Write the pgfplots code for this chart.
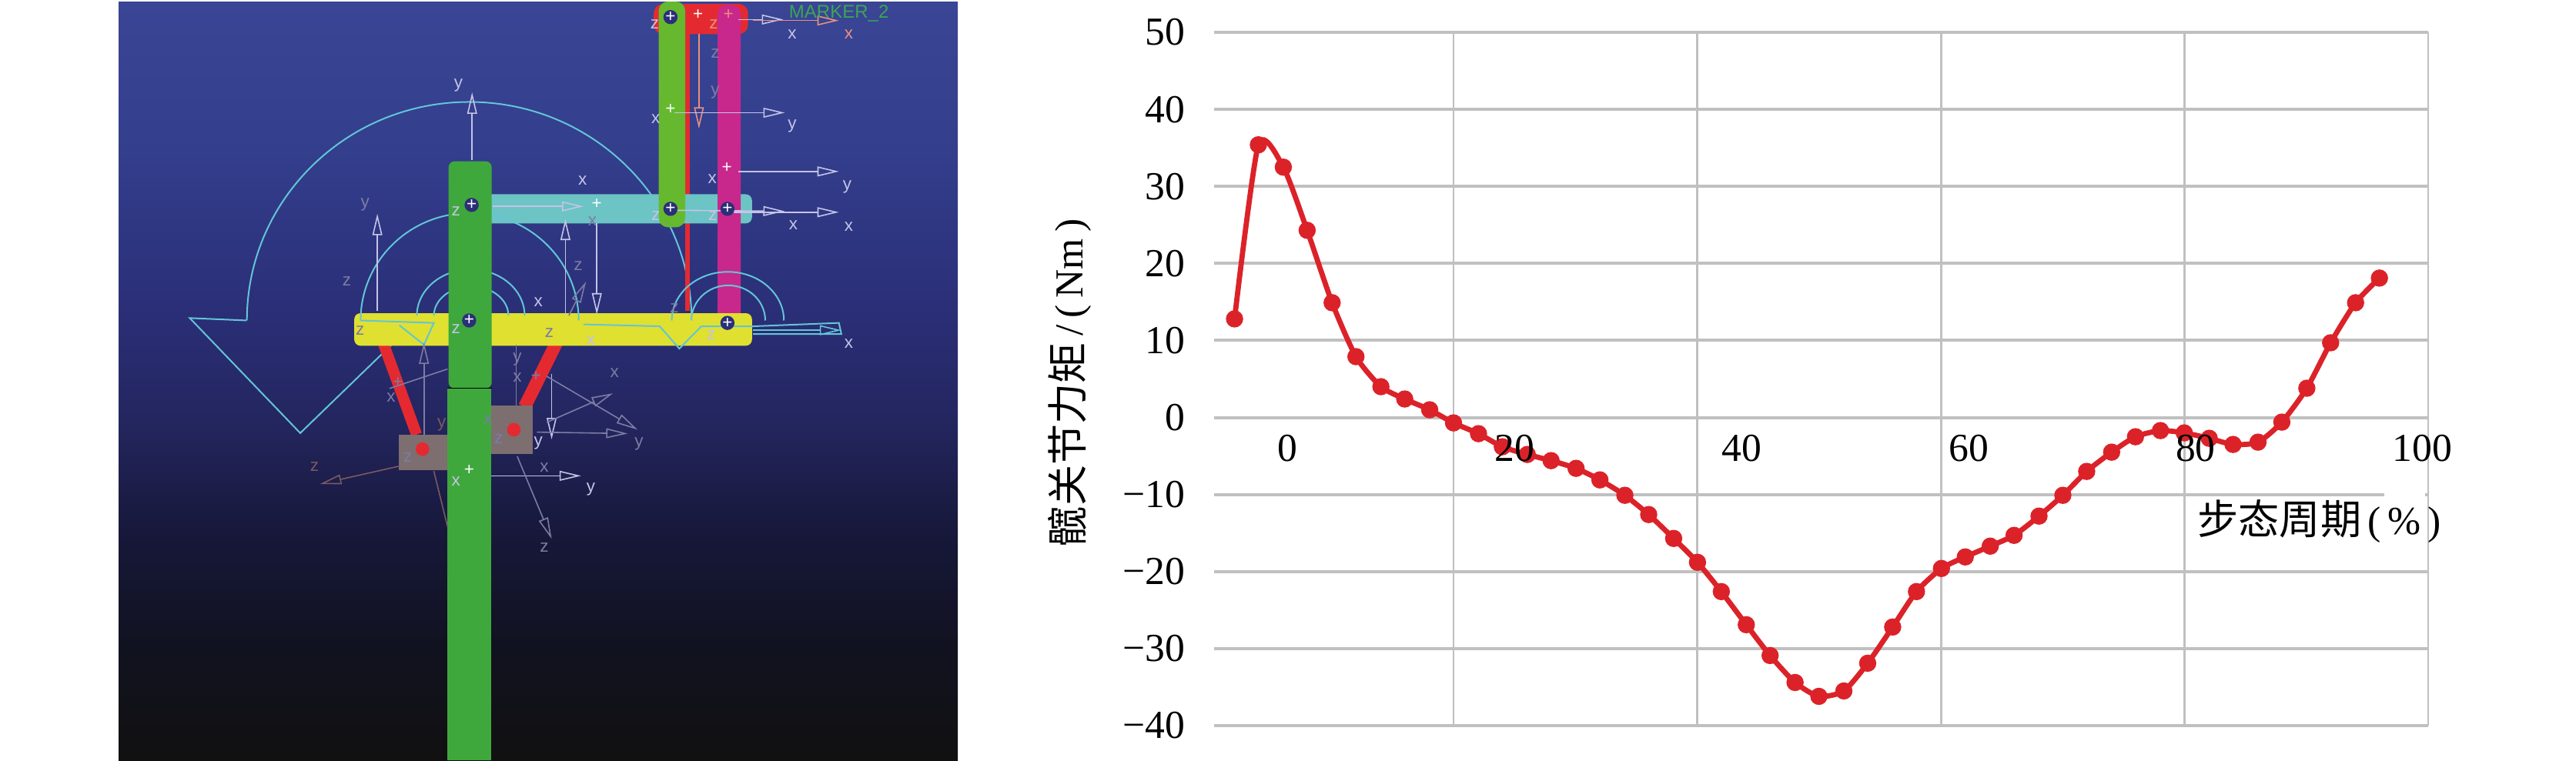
\documentclass[border=0pt]{standalone}
\usepackage{fontspec}
\usepackage{pgfplots}
\pgfplotsset{compat=1.18}
\usetikzlibrary{arrows.meta}
\setmainfont{Liberation Serif}
\newfontfamily\cjk{Noto Sans CJK SC}
\newfontfamily\lab{Liberation Sans}

\definecolor{gridc}{HTML}{C0C0C0}
\definecolor{curve}{HTML}{DC2229}
\definecolor{kA}{HTML}{111111}
\definecolor{kB}{HTML}{111220}
\definecolor{kC}{HTML}{17183A}
\definecolor{kD}{HTML}{242660}
\definecolor{kE}{HTML}{2B2F78}
\definecolor{kF}{HTML}{333E8C}
\definecolor{kG}{HTML}{3A4595}
\definecolor{bigg}{HTML}{3FA83C}
\definecolor{lightg}{HTML}{66B92E}
\definecolor{magen}{HTML}{C8288C}
\definecolor{teal1}{HTML}{6CC4C4}
\definecolor{yell}{HTML}{DFE030}
\definecolor{redb}{HTML}{E42A30}
\definecolor{block}{HTML}{7D6E70}
\definecolor{cyl}{HTML}{63C5D6}
\definecolor{wire}{HTML}{C4C4E8}
\definecolor{dim}{HTML}{7C7CA4}
\definecolor{orng}{HTML}{E89080}
\definecolor{brwn}{HTML}{7A5A60}
\definecolor{mkr}{HTML}{3AA655}

\pgfdeclareverticalshading{panelgrad}{100bp}{color(0bp)=(kA); color(25bp)=(kA); color(32.5bp)=(kB); color(40bp)=(kC); color(47.5bp)=(kD); color(55bp)=(kE); color(65bp)=(kF); color(75bp)=(kG); color(100bp)=(kG)}

% small helpers for the model screenshot, coordinates are the panel's own
\newcommand\lb[4]{\node[text=#4,font=\lab\fontsize{5.6}{6}\selectfont,inner sep=0pt] at (axis cs:#1,#2) {#3};}
\newcommand\rbar[6][2pt]{\addplot[fill=#2,draw=none,rounded corners=#1] coordinates {(#3,#4)(#5,#4)(#5,#6)(#3,#6)} -- cycle;}
\newcommand\jt[2]{\fill[kE] (axis cs:#1,#2) circle[radius=2.3pt]; \lb{#1}{#2}{+}{white}}

\pgfplotstableread{
x y
-4.7 12.8
-2.6 35.4
-0.4 32.5
1.7 24.3
3.9 14.9
6.0 7.9
8.2 4.0
10.3 2.4
12.5 1.0
14.6 -0.7
16.8 -2.1
18.9 -3.8
21.1 -4.8
23.2 -5.6
25.4 -6.6
27.5 -8.1
29.7 -10.1
31.8 -12.6
34.0 -15.7
36.1 -18.8
38.2 -22.6
40.4 -26.9
42.5 -30.9
44.7 -34.4
46.8 -36.2
49.0 -35.5
51.1 -31.9
53.3 -27.2
55.4 -22.6
57.6 -19.6
59.7 -18.1
61.9 -16.7
64.0 -15.3
66.2 -12.8
68.3 -10.1
70.4 -7.0
72.6 -4.5
74.7 -2.5
76.9 -1.7
79.0 -2.0
81.2 -2.7
83.3 -3.5
85.5 -3.2
87.6 -0.6
89.8 3.8
91.9 9.7
94.1 14.9
96.2 18.1
}\torque

\begin{document}
\begin{tikzpicture}
\path[use as bounding box] (0,0) rectangle (836.5pt,-247pt);

% left panel: screenshot of the model
\begin{axis}[
    at={(38.5pt,-247pt)}, anchor=south west,
    scale only axis, width=272.5pt, height=246.5pt,
    xmin=38, xmax=1747, ymin=3, ymax=1566, y dir=reverse,
    hide axis
  ]
\shade[shading=panelgrad] (rel axis cs:0,0) rectangle (rel axis cs:1,1);

% big cyan rotation arrow and joint arcs
\draw[cyl,line width=.5pt] (axis cs:1205,660) arc[start angle=0,end angle=180,x radius=72.2pt,y radius=71pt];
\addplot[cyl,line width=.5pt] coordinates {(299,660)(183,655)(408,892)(650,655)};
\addplot[redb,line width=1.5pt] coordinates {(1196,60)(1196,640)};

% bars, back to front
\rbar{teal1}{755}{400}{1328}{460}
\rbar[3pt]{redb}{1128}{8}{1320}{70}
\rbar[3pt]{lightg}{1138}{3}{1192}{468}
\rbar[3pt]{magen}{1258}{10}{1305}{695}
\addplot[redb,line width=3.6pt] coordinates {(562,665)(645,895)};
\addplot[redb,line width=4.2pt] coordinates {(945,675)(865,838)};
\rbar[0pt]{block}{608}{895}{712}{968}
\rbar[0pt]{block}{796}{835}{882}{935}
\rbar{yell}{518}{645}{1328}{712}
\draw[cyl,line width=.5pt] (axis cs:975,660) arc[start angle=0,end angle=180,x radius=35.4pt,y radius=34.9pt];
\draw[cyl,line width=.5pt] (axis cs:865,650) arc[start angle=0,end angle=180,x radius=17.5pt,y radius=15pt];
\draw[cyl,line width=.5pt] (axis cs:832,650) arc[start angle=0,end angle=180,x radius=12.1pt,y radius=9.5pt];
\draw[cyl,line width=.5pt] (axis cs:1393,660) arc[start angle=0,end angle=180,x radius=18.2pt,y radius=15.8pt];
\draw[cyl,line width=.5pt] (axis cs:1355,660) arc[start angle=0,end angle=180,x radius=12pt,y radius=11.4pt];
\addplot[cyl,line width=.5pt] coordinates {(530,660)(680,665)(660,710)(610,670)};
\addplot[cyl,line width=.5pt] coordinates {(985,668)(1140,672)(1180,718)(1225,672)(1330,672)(1505,665)(1510,688)(1330,688)};
\rbar[2pt]{bigg}{710}{332}{798}{800}
\rbar[0pt]{bigg}{708}{800}{797}{1566}
\addplot[black,line width=.3pt] coordinates {(708,799)(798,799)};
\fill[redb] (axis cs:657,925) circle[radius=2.2pt];
\fill[redb] (axis cs:843,885) circle[radius=2.2pt];

% marker triads
\tikzset{arr/.style={line width=.4pt,-{Triangle[open,length=7pt,width=3.2pt]}}}
\addplot[arr,wire] coordinates {(758,330)(758,190)};
\addplot[arr,wire] coordinates {(565,640)(565,440)};
\addplot[arr,wire] coordinates {(948,650)(948,450)};
\addplot[arr,wire] coordinates {(1012,460)(1012,648)};
\addplot[arr,dim] coordinates {(660,895)(660,705)};
\addplot[dim,line width=.4pt] coordinates {(848,835)(848,710)};
\addplot[arr,wire] coordinates {(920,770)(920,905)};
\addplot[arr,orng] coordinates {(1220,70)(1220,265)};
\addplot[arr,wire] coordinates {(1170,232)(1395,232)};
\addplot[arr,wire] coordinates {(1300,353)(1505,353)};
\addplot[arr,wire] coordinates {(1175,433)(1395,435)};
\addplot[arr,wire] coordinates {(1290,437)(1505,437)};
\addplot[arr,wire] coordinates {(800,425)(985,425)};
\addplot[arr,wire] coordinates {(797,980)(980,980)};
\addplot[arr,dim] coordinates {(890,890)(1075,893)};
\addplot[arr,wire] coordinates {(1300,40)(1392,40)};
\addplot[arr,orng] coordinates {(1330,42)(1505,42)};
\addplot[arr,cyl] coordinates {(1330,680)(1510,680)};
\addplot[arr,dim] coordinates {(850,940)(920,1110)};
\addplot[arr,dim] coordinates {(910,870)(1045,810)};
\addplot[arr,dim] coordinates {(910,775)(1095,885)};
\addplot[arr,brwn] coordinates {(610,960)(448,997)};
\addplot[brwn,line width=.4pt] coordinates {(680,970)(708,1085)};
\addplot[dim,line width=.4pt] coordinates {(708,760)(590,800)};
\addplot[arr,dim] coordinates {(955,650)(990,580)};

\jt{757}{422}
\jt{1162}{430}
\jt{1162}{35}
\jt{1278}{430}
\jt{1278}{665}
\jt{752}{660}
\lb{1162}{225}{+}{white}
\lb{1218}{30}{+}{white}
\lb{1280}{30}{+}{orng}
\lb{1277}{345}{+}{white}
\lb{1012}{420}{+}{white}
\lb{752}{968}{+}{white}
\lb{607}{787}{+}{dim}
\lb{888}{775}{+}{dim}

\lb{730}{175}{y}{wire} \lb{540}{422}{y}{dim} \lb{503}{580}{z}{dim} \lb{974}{548}{z}{dim}
\lb{983}{372}{x}{wire} \lb{893}{622}{x}{wire} \lb{1410}{260}{y}{wire} \lb{1522}{385}{y}{wire}
\lb{1410}{70}{x}{wire} \lb{1525}{70}{x}{orng} \lb{1412}{463}{x}{wire} \lb{1525}{467}{x}{wire}
\lb{1525}{708}{x}{wire} \lb{1048}{768}{x}{dim} \lb{1098}{915}{y}{dim} \lb{1000}{1008}{y}{wire}
\lb{905}{1128}{z}{dim} \lb{437}{962}{z}{brwn} \lb{905}{963}{x}{dim} \lb{725}{992}{x}{wire}
\lb{1247}{368}{x}{wire} \lb{1132}{245}{x}{wire} \lb{1130}{50}{z}{wire} \lb{1250}{50}{z}{orng}
\lb{1253}{110}{z}{dim} \lb{1253}{190}{y}{dim} \lb{725}{435}{z}{wire} \lb{725}{678}{z}{wire}
\lb{1132}{445}{z}{wire} \lb{1248}{445}{z}{wire} \lb{1003}{455}{x}{dim} \lb{1000}{702}{x}{wire}
\lb{850}{740}{y}{dim} \lb{893}{912}{y}{wire} \lb{627}{942}{z}{dim} \lb{812}{905}{z}{dim}
\lb{696}{875}{y}{brwn} \lb{850}{778}{x}{dim} \lb{593}{818}{x}{dim} \lb{790}{865}{x}{dim}
\lb{530}{680}{z}{dim} \lb{915}{685}{z}{dim} \lb{1245}{690}{z}{wire} \lb{1170}{635}{z}{dim}
\node[text=mkr,font=\lab\fontsize{6}{7}\selectfont,inner sep=0pt] at (axis cs:1505,28) {MARKER\_2};
\end{axis}

% right panel: hip joint torque over the gait cycle
\begin{axis}[
    at={(394.25pt,-235.75pt)}, anchor=south west,
    scale only axis, width=394.25pt, height=225.25pt,
    xmin=-6.5, xmax=100.5, ymin=-40, ymax=50,
    font=\fontsize{12.9}{15}\selectfont,
    axis line style={draw=none},
    major tick length=0pt,
    grid=both,
    x grid style={gridc,line width=.7pt},
    y grid style={gridc,line width=1pt},
    xtick={14.6,36.1,57.6,79.0,100.5},
    xticklabels={,,,,},
    ytick={-40,-30,-20,-10,0,10,20,30,40,50},
    yticklabels={−40,−30,−20,−10,0,10,20,30,40,50},
    yticklabel style={xshift=-6pt},
    xlabel={{\cjk\fontsize{13.3}{15}\selectfont 步态周期}\,(\,\%\,)},
    xlabel style={at={(axis cs:90.9,-13.5)},anchor=center},
    ylabel={{\cjk\fontsize{13.3}{15}\selectfont 髋关节力矩}\,/\,(\,Nm\,)},
    ylabel style={at={(rel axis cs:-0.119,0.494)},anchor=center},
    clip=false
  ]
\addplot[curve,line width=1.7pt,smooth,tension=0.4,mark=*,mark size=2.6pt,mark options={fill=curve,draw=curve,line width=.4pt}] table[x=x,y=y] {\torque};
\end{axis}

% same frame again, only for the x tick numbers, which lie over the curve
\begin{axis}[
    at={(394.25pt,-235.75pt)}, anchor=south west,
    scale only axis, width=394.25pt, height=225.25pt,
    xmin=-6.5, xmax=100.5, ymin=-40, ymax=50,
    font=\fontsize{12.9}{15}\selectfont,
    axis line style={draw=none},
    major tick length=0pt,
    ytick=\empty,
    xtick={0,20,40,60,80,100},
    xticklabel style={yshift=97.9pt},
    /pgf/number format/assume math mode=true
  ]
\end{axis}
\fill[white] (774.25pt,-160.25pt) rectangle (787.5pt,-161.75pt);
\end{tikzpicture}
\end{document}
